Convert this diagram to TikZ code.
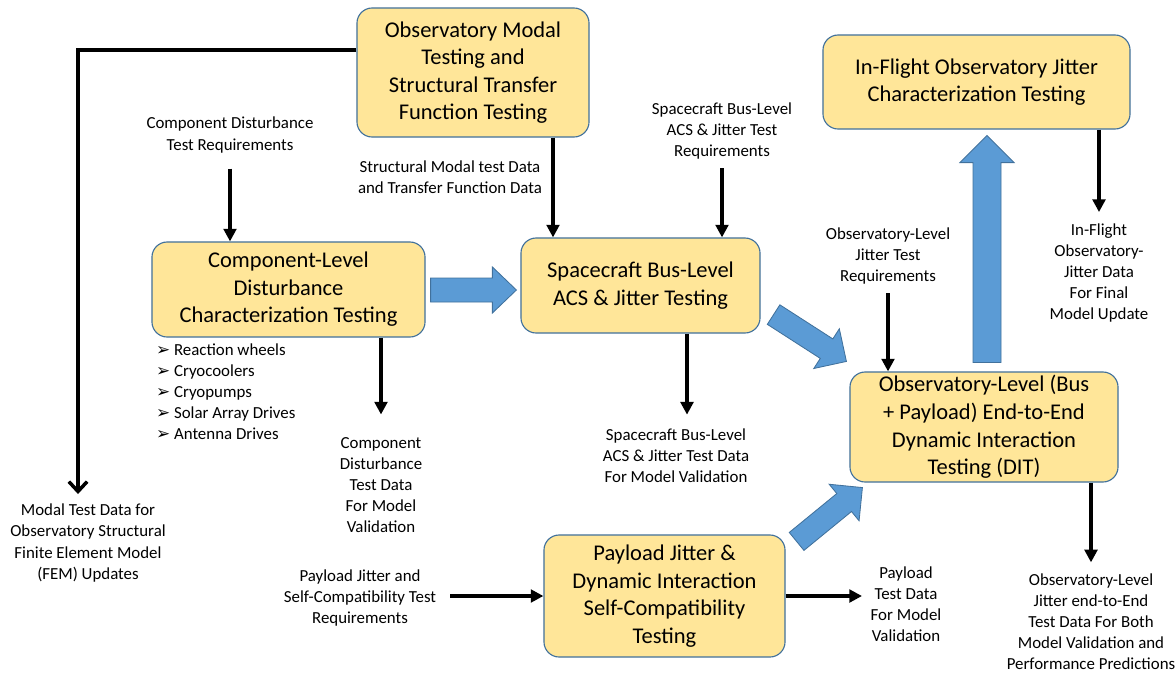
\documentclass[tikz,border=0pt]{standalone}
\usepackage{fontspec}
\setmainfont{Carlito}
\newfontfamily\dejavu{DejaVu Sans}
\usetikzlibrary{arrows.meta,calc}
\definecolor{boxfill}{HTML}{FFE699}
\definecolor{boxline}{HTML}{41719C}
\definecolor{flowblue}{HTML}{5B9BD5}

% wide blue arrow: tail, tip, shaft half width, head half width, head length
\newcommand{\bigflow}[5]{%
  \coordinate (bf-h) at ($(#2)!#5!(#1)$);
  \draw[boxline,fill=flowblue,line width=0.6pt,line join=miter]
    ($(#1)!#3!90:(#2)$) -- ($(bf-h)!#3!90:(#2)$) -- ($(bf-h)!#4!90:(#2)$) -- (#2)
    -- ($(bf-h)!#4!-90:(#2)$) -- ($(bf-h)!#3!-90:(#2)$) -- ($(#1)!#3!-90:(#2)$) -- cycle;
}

\begin{document}
\begin{tikzpicture}[x=0.025cm,y=-0.025cm]
\tikzstyle{testbox}=[draw=boxline,fill=boxfill,line width=0.8pt,rounded corners=0.38cm,align=center,font=\fontsize{16}{19.6}\selectfont,inner sep=2pt]
\tikzstyle{note}=[align=center,font=\fontsize{12}{15}\selectfont,inner sep=2pt]
\tikzstyle{feed}=[line width=2.5pt,-{Triangle[width=9pt,length=9pt]}]
\useasboundingbox (0,0) rectangle (1176,672);

% test boxes
\path (473,72.5) node[testbox,minimum width=5.8cm,minimum height=3.225cm](obsmodal){Observatory Modal\\Testing and\\Structural Transfer\\Function Testing};
\path (288.5,289.5) node[testbox,minimum width=6.825cm,minimum height=2.375cm](complevel){Component-Level\\Disturbance\\Characterization Testing};
\path (640.5,285.5) node[testbox,minimum width=5.975cm,minimum height=2.375cm](busjitter){Spacecraft Bus-Level\\ACS \& Jitter Testing};
\path (976.5,82) node[testbox,minimum width=7.675cm,minimum height=2.35cm](inflight){In-Flight Observatory Jitter\\Characterization Testing};
\path (984,427) node[testbox,minimum width=6.7cm,minimum height=2.75cm](obsdit){Observatory-Level (Bus\\+ Payload) End-to-End\\Dynamic Interaction\\Testing (DIT)};
\path (664.5,596) node[testbox,minimum width=6.025cm,minimum height=3.05cm](payload){Payload Jitter \&\\Dynamic Interaction\\Self-Compatibility\\Testing};

% requirements and data notes
\path (230,135) node[note](compreq){Component Disturbance\\Test Requirements};
\path (450,177) node[note](modaldata){Structural Modal test Data\\and Transfer Function Data};
\path (722,131) node[note](busreq){Spacecraft Bus-Level\\ACS \& Jitter Test\\Requirements};
\path (888,256) node[note](obsreq){Observatory-Level\\Jitter Test\\Requirements};
\path (1099,273) node[note](inflightdata){In-Flight\\Observatory-\\Jitter Data\\For Final\\Model Update};
\path (153,392) node[note,anchor=west,align=left](parts){{\dejavu ➢}\ Reaction wheels\\{\dejavu ➢}\ Cryocoolers\\{\dejavu ➢}\ Cryopumps\\{\dejavu ➢}\ Solar Array Drives\\{\dejavu ➢}\ Antenna Drives};
\path (381,485) node[note](compdata){Component\\Disturbance\\Test Data\\For Model\\Validation};
\path (676,456) node[note](busdata){Spacecraft Bus-Level\\ACS \& Jitter Test Data\\For Model Validation};
\path (88,543) node[note](modalfem){Modal Test Data for\\Observatory Structural\\Finite Element Model\\(FEM) Updates};
\path (360,598) node[note](payreq){Payload Jitter and\\Self-Compatibility Test\\Requirements};
\path (906,604) node[note](paydata){Payload\\Test Data\\For Model\\Validation};
\path (1091,622) node[note](ditdata){Observatory-Level\\Jitter end-to-End\\Test Data For Both\\Model Validation and\\Performance Predictions};

% helper coordinates for bends and columns
\coordinate (fembend) at (78,50);
\coordinate (modalcol) at (553,0);
\coordinate (buscol) at (687,0);

% black data/requirement arrows
\draw[line width=2.5pt,-{Straight Barb[width=13pt,length=7pt]}] (obsmodal.west |- fembend) -- (fembend) -- ([yshift=5pt]fembend |- modalfem.north);
\draw[feed,shorten <=9pt] (compreq.south) -- (compreq.south |- complevel.north);
\draw[feed] (obsmodal.south -| modalcol) -- (busjitter.north -| modalcol);
\draw[feed,shorten <=4pt] (busreq.south) -- (busreq.south |- busjitter.north);
\draw[feed,shorten <=4pt] (obsreq.south) -- (obsreq.south |- obsdit.north);
\draw[feed,shorten >=6pt] (inflightdata.north |- inflight.south) -- (inflightdata.north);
\draw[feed,shorten >=14pt] (compdata.north |- complevel.south) -- (compdata.north);
\draw[feed,shorten >=8pt] (busjitter.south -| buscol) -- (busdata.north -| buscol);
\draw[feed,shorten >=6pt] (obsdit.south -| ditdata.north) -- (ditdata.north);
\draw[feed,shorten >=4pt] (payload.east) -- (payload.east -| paydata.west);
\draw[feed,shorten <=8pt] (payreq.east |- payload.west) -- (payload.west);

% wide blue flow arrows
\coordinate (f1s) at ($(complevel.east)+(5,0.5)$);
\coordinate (f1e) at ($(busjitter.west)+(-4,4.5)$);
\bigflow{f1s}{f1e}{0.3cm}{0.575cm}{0.6cm}
\coordinate (f2s) at ($(busjitter.south east)+(13,-19)$);
\coordinate (f2e) at ($(obsdit.north west)+(-3,-10)$);
\bigflow{f2s}{f2e}{0.29cm}{0.59cm}{0.59cm}
\coordinate (f3s) at ($(payload.north east)+(11,7)$);
\coordinate (f3e) at ($(obsdit.south west)+(13,5)$);
\bigflow{f3s}{f3e}{0.29cm}{0.59cm}{0.59cm}
\coordinate (f4s) at ($(obsdit.north)+(3,-9)$);
\coordinate (f4e) at ($(inflight.south)+(10.5,6)$);
\bigflow{f4s}{f4e}{0.35cm}{0.675cm}{0.675cm}
\end{tikzpicture}
\end{document}
